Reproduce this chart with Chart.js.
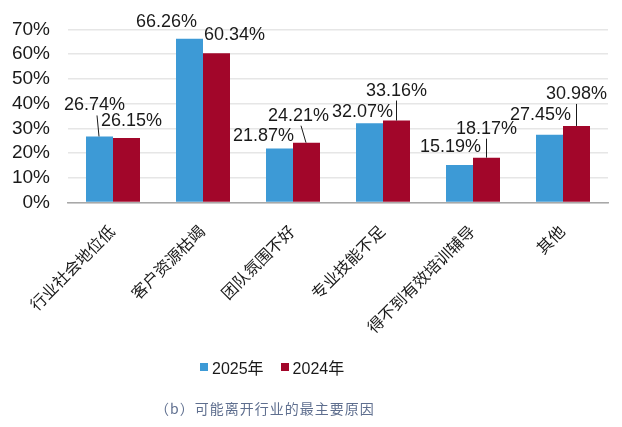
<!DOCTYPE html>
<html>
<head>
<meta charset="utf-8">
<script src="https://cdn.jsdelivr.net/npm/chart.js@4/dist/chart.umd.min.js"></script>
<style>
    body { margin: 0; background: #fff; }
    #wrap { position: relative; width: 622px; height: 427px; }
    #legend {
        position: absolute; top: 355px; left: 200px;
        display: flex; align-items: center;
        font: 16px 'Liberation Sans', 'Noto Sans CJK SC', sans-serif; color: #1a1a1a;
    }
    #legend .item { display: flex; align-items: center; margin-right: 17px; }
    #legend .box { width: 8px; height: 8px; margin-right: 4px; }
    #caption {
        position: absolute; top: 398px; left: 155px;
        font: 14px 'Noto Sans CJK SC', sans-serif; color: #5f6f8f; letter-spacing: 1px;
    }
</style>
</head>
<body>
<div id="wrap">
    <canvas id="chart"></canvas>
    <div id="legend"></div>
    <div id="caption">（b）可能离开行业的最主要原因</div>
</div>
<script>
const categories = ['行业社会地位低', '客户资源枯竭', '团队氛围不好', '专业技能不足', '得不到有效培训辅导', '其他'];
const seriesNames = ['2025年', '2024年'];
const values2025 = [26.74, 66.26, 21.87, 32.07, 15.19, 27.45];
const values2024 = [26.15, 60.34, 24.21, 33.16, 18.17, 30.98];
const yTicks = [0, 10, 20, 30, 40, 50, 60, 70];

const BLUE = '#3d9ad6';
const RED = '#a2062a';
const FONT = "'Liberation Sans', 'Noto Sans CJK SC', sans-serif";

// label placement (offset from bar top centre, px) and leader line flag
const labelOffsets = [
    [[-5, -31, true], [-23, -17, false], [-16, -12, false], [-7, -11, false], [-9, -18, false], [-9, -20, false]],
    [[5, -17, false], [18, -18, false], [-8, -27, true], [0, -30, true], [0, -29, true], [0, -32, true]]
];

const valueLabels = {
    id: 'valueLabels',
    afterDatasetsDraw(chart) {
        const ctx = chart.ctx;
        ctx.save();
        ctx.font = '18px ' + FONT;
        ctx.fillStyle = '#1a1a1a';
        ctx.strokeStyle = '#1a1a1a';
        ctx.lineWidth = 1;
        ctx.textAlign = 'center';
        ctx.textBaseline = 'middle';
        chart.data.datasets.forEach((ds, di) => {
            chart.getDatasetMeta(di).data.forEach((bar, i) => {
                const [dx, dy, leader] = labelOffsets[di][i];
                const lx = bar.x + dx;
                const ly = bar.y + dy;
                ctx.fillText(ds.data[i].toFixed(2) + '%', lx, ly);
                if (leader) {
                    ctx.beginPath();
                    ctx.moveTo(lx + (dx === 0 ? 0 : 2.5), ly + 10);
                    ctx.lineTo(bar.x - (dx === 0 ? 0 : 0.5), bar.y);
                    ctx.stroke();
                }
            });
        });
        ctx.restore();
    }
};

const htmlLegend = {
    id: 'htmlLegend',
    afterUpdate(chart) {
        const el = document.getElementById('legend');
        el.innerHTML = chart.data.datasets.map(ds =>
            `<span class="item"><span class="box" style="background:${ds.backgroundColor}"></span>${ds.label}</span>`
        ).join('');
    }
};

new Chart(document.getElementById('chart'), {
    type: 'bar',
    data: {
        labels: categories,
        datasets: [
            { label: seriesNames[0], data: values2025, backgroundColor: BLUE },
            { label: seriesNames[1], data: values2024, backgroundColor: RED }
        ]
    },
    options: {
        responsive: true,
        maintainAspectRatio: false,
        animation: false,
        categoryPercentage: 0.6,
        barPercentage: 1,
        layout: { padding: { top: 19, right: 14, bottom: 77, left: 12 } },
        plugins: {
            legend: { display: false },
            tooltip: { enabled: false }
        },
        scales: {
            x: {
                grid: { display: false },
                border: { color: '#a8a8a8', width: 1.5 },
                ticks: {
                    color: '#1a1a1a',
                    font: { size: 16, family: FONT },
                    maxRotation: 45,
                    minRotation: 45,
                    padding: 12
                },
                // let the rotated first label hang past the plot's left edge
                afterFit: (axis) => { axis.paddingLeft = 0; axis.paddingRight = 0; }
            },
            y: {
                min: 0,
                max: 70,
                afterBuildTicks: (axis) => { axis.ticks = yTicks.map(v => ({ value: v })); },
                afterFit: (axis) => { axis.width = 56; },
                grid: { color: '#e6e6e6', lineWidth: 1.5, drawTicks: false },
                border: { display: false },
                ticks: {
                    color: '#1a1a1a',
                    font: { size: 19, family: FONT },
                    padding: 18,
                    autoSkip: false,
                    callback: (v) => v + '%'
                }
            }
        }
    },
    plugins: [valueLabels, htmlLegend]
});
</script>
</body>
</html>
